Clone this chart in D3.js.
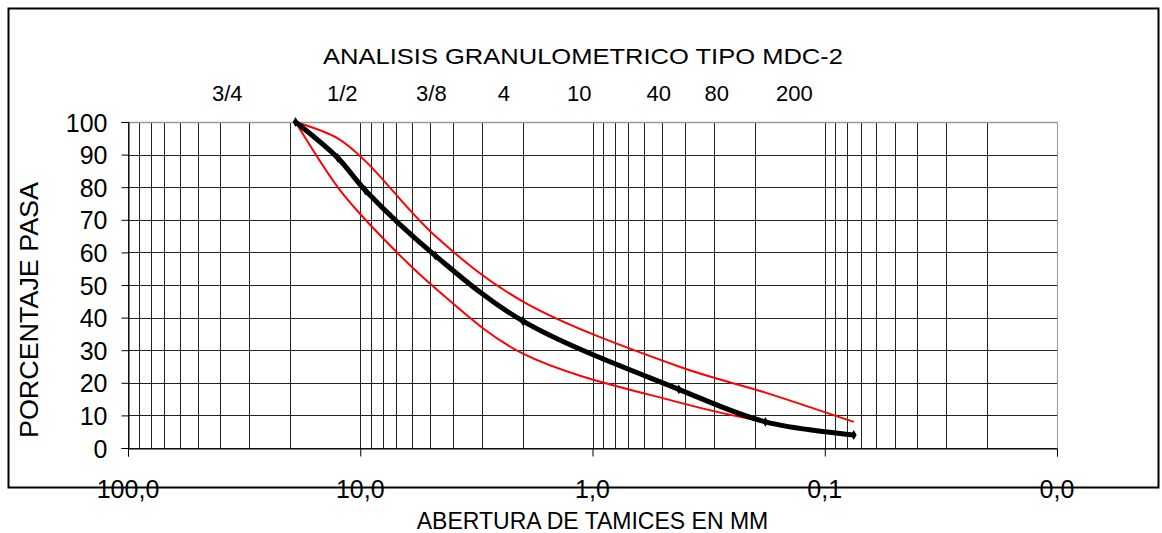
<!DOCTYPE html>
<html>
<head>
<meta charset="utf-8">
<script src="https://cdn.jsdelivr.net/npm/d3@7"></script>
<style>
  body { margin: 0; background: #fff; }
  text { font-family: "Liberation Sans", Arial, sans-serif; fill: #000; }
</style>
</head>
<body>
<div id="chart"></div>
<script>
// ******* DATA *******
// sieve openings in mm (3/4", 1/2", 3/8", No4, No10, No40, No80, No200)
const tamices = [19, 12.5, 9.5, 4.75, 2.0, 0.425, 0.18, 0.075];
const muestra = [100, 89, 79, 59, 39, 18, 8, 4];
const limiteSuperior = [100, 95, 88, 65, 45, 25, 17, 8];
const limiteInferior = [100, 80, 70, 49, 29, 14, 8, 4];

// sieve names written above the plot, and the opening (mm) they sit over
const nombresTamiz = ["3/4", "1/2", "3/8", "4", "10", "40", "80", "200"];
const posicionNombre = [37.4, 11.96, 4.94, 2.41, 1.14, 0.519, 0.292, 0.135];

const xDecadas = [100, 10, 1, 0.1, 0.01];
const yTicks = [0, 10, 20, 30, 40, 50, 60, 70, 80, 90, 100];

// ******* LAYOUT *******
const W = 1162, H = 533;
const plot = { left: 128, top: 122, width: 929, height: 326 };

const svg = d3.select("#chart").append("svg")
    .attr("width", W)
    .attr("height", H);

// outer frame
svg.append("rect")
    .attr("x", 8.5).attr("y", 8.5)
    .attr("width", 1150).attr("height", 479)
    .attr("fill", "none")
    .attr("stroke", "#000")
    .attr("stroke-width", 2);

const x = d3.scaleLog().domain([100, 0.01]).range([plot.left, plot.left + plot.width]);
const y = d3.scaleLinear().domain([0, 100]).range([plot.top + plot.height, plot.top]);

// ******* GRID *******
// every 1..9 step inside each decade
const minor = [];
for (let e = -2; e < 2; e++) {
    for (let k = 1; k < 10; k++) minor.push(k * Math.pow(10, e));
}
minor.push(100);

const grid = svg.append("g");
grid.selectAll("line.v").data(minor).join("line")
    .attr("x1", d => Math.round(x(d)) + 0.5)
    .attr("x2", d => Math.round(x(d)) + 0.5)
    .attr("y1", plot.top)
    .attr("y2", plot.top + plot.height)
    .attr("stroke", d => d === 0.01 ? "#999" : "#222")
    .attr("stroke-width", 1);

grid.selectAll("line.h").data(yTicks).join("line")
    .attr("x1", plot.left)
    .attr("x2", plot.left + plot.width)
    .attr("y1", d => Math.round(y(d)) + 0.5)
    .attr("y2", d => Math.round(y(d)) + 0.5)
    .attr("stroke", d => d === 100 ? "#999" : "#222")
    .attr("stroke-width", d => d === 100 ? 1.5 : 1);

// ******* AXES *******
const yAxis = svg.append("g")
    .attr("transform", `translate(${plot.left + 0.5},0)`)
    .call(d3.axisLeft(y).tickValues(yTicks).tickSize(7).tickPadding(14));
yAxis.select(".domain").attr("stroke", "#000");
yAxis.selectAll(".tick line").attr("stroke", "#000");
yAxis.selectAll("text")
    .style("font-size", "25px")
    .style("font-family", "'Liberation Sans', Arial, sans-serif")
    .attr("dy", "0.36em");

const xAxis = svg.append("g")
    .attr("transform", `translate(0,${plot.top + plot.height + 0.5})`)
    .call(d3.axisBottom(x).tickValues(xDecadas).tickSize(8).tickFormat(""));
xAxis.select(".domain").attr("stroke", "#000");
xAxis.selectAll(".tick line").attr("stroke", "#000");

// decade labels sit on the frame line
svg.append("g").selectAll("text").data(xDecadas).join("text")
    .attr("x", d => x(d))
    .attr("y", 498)
    .attr("text-anchor", "middle")
    .style("font-size", "25px")
    .text(d => d3.format(".1f")(d).replace(".", ","));

// sieve names
svg.append("g").selectAll("text").data(nombresTamiz).join("text")
    .attr("x", (d, i) => x(posicionNombre[i]))
    .attr("y", 101)
    .attr("text-anchor", "middle")
    .style("font-size", "22px")
    .text(d => d);

// titles
svg.append("text")
    .attr("x", 583).attr("y", 64)
    .attr("text-anchor", "middle")
    .attr("textLength", 520)
    .attr("lengthAdjust", "spacingAndGlyphs")
    .style("font-size", "22px")
    .text("ANALISIS GRANULOMETRICO TIPO MDC-2");

svg.append("text")
    .attr("x", plot.left + plot.width / 2).attr("y", 529)
    .attr("text-anchor", "middle")
    .style("font-size", "23px")
    .text("ABERTURA DE TAMICES EN MM");

svg.append("text")
    .attr("transform", "translate(38,310) rotate(-90)")
    .attr("text-anchor", "middle")
    .attr("textLength", 256)
    .attr("lengthAdjust", "spacingAndGlyphs")
    .style("font-size", "26px")
    .text("PORCENTAJE PASA");

// ******* CURVES *******
const line = d3.line()
    .x(d => x(d[0]))
    .y(d => y(d[1]))
    .curve(d3.curveCatmullRom.alpha(0.5));

const toPts = vals => tamices.map((t, i) => [t, vals[i]]);

const curves = svg.append("g");
[limiteSuperior, limiteInferior].forEach(vals => {
    curves.append("path")
        .attr("d", line(toPts(vals)))
        .attr("fill", "none")
        .attr("stroke", "#ff0000")
        .attr("stroke-width", 2);
});

curves.append("path")
    .attr("d", line(toPts(muestra)))
    .attr("fill", "none")
    .attr("stroke", "#000")
    .attr("stroke-width", 5)
    .attr("stroke-linejoin", "round");

curves.selectAll("path.pt").data(toPts(muestra)).join("path")
    .attr("transform", d => `translate(${x(d[0])},${y(d[1])})`)
    .attr("d", d3.symbol(d3.symbolDiamond, 28))
    .attr("fill", "#000");
</script>
</body>
</html>
